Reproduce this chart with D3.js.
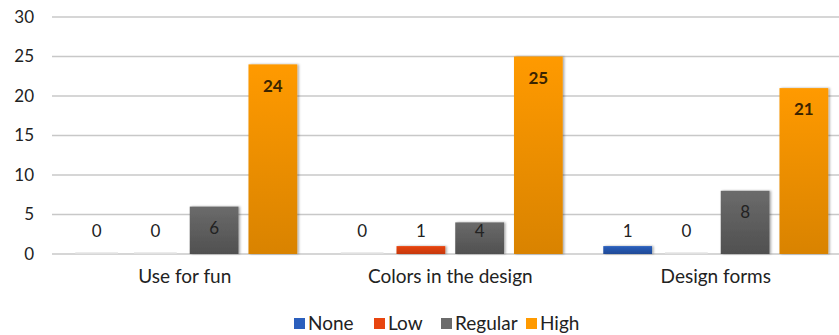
<!DOCTYPE html>
<html><head><meta charset="utf-8">
<script src="https://cdn.jsdelivr.net/npm/d3@7"></script>
<style>body{margin:0;background:#fff;} svg{display:block;font-family:Lato,"Open Sans",sans-serif;}</style>
</head><body>
<svg id="c" width="839" height="335"></svg>
<script>
const categories = ["Use for fun", "Colors in the design", "Design forms"];
const seriesNames = ["None", "Low", "Regular", "High"];
const noneVals = [0, 0, 1];
const lowVals = [0, 1, 0];
const regularVals = [6, 4, 8];
const highVals = [24, 25, 21];
const yTicks = [0, 5, 10, 15, 20, 25, 30];
const colors = ["#2b5fbd", "#e8450f", "#6b6b6b", "#ff9a00"];
const colorsDark = ["#1f4a96", "#c5370a", "#505050", "#d98300"];

const series = [noneVals, lowVals, regularVals, highVals];
const svg = d3.select("#c");
const defs = svg.append("defs");
colors.forEach((c, i) => {
  const g = defs.append("linearGradient").attr("id", "g" + i).attr("x1", 0).attr("y1", 0).attr("x2", 0).attr("y2", 1);
  g.append("stop").attr("offset", "0%").attr("stop-color", c);
  g.append("stop").attr("offset", "100%").attr("stop-color", colorsDark[i]);
});
const f = defs.append("filter").attr("id", "sh").attr("x", "-20%").attr("y", "-20%").attr("width", "150%").attr("height", "150%");
f.append("feDropShadow").attr("dx", 1.5).attr("dy", 0).attr("stdDeviation", 1.2).attr("flood-color", "#000").attr("flood-opacity", 0.35);

const x0 = d3.scaleBand().domain(categories).range([52, 848.5]).paddingInner(0).paddingOuter(0);
const x1 = d3.scaleBand().domain(seriesNames).range([0, x0.bandwidth()]).paddingInner(0.17).paddingOuter(0.345);
const y = d3.scaleLinear().domain([0, 30]).range([254, 17]);

// grid
svg.append("g").selectAll("line").data(yTicks).join("line")
  .attr("x1", 52).attr("x2", 839).attr("y1", d => y(d)).attr("y2", d => y(d))
  .attr("stroke", "#c8c8c8").attr("stroke-width", 1.3);

const yAxis = svg.append("g").attr("transform", "translate(40,0)")
  .call(d3.axisLeft(y).tickValues(yTicks).tickSize(0).tickPadding(6));
yAxis.select(".domain").remove();
yAxis.selectAll("text").attr("font-size", 17).attr("fill", "#222").attr("font-family", "Lato,'Open Sans',sans-serif");

const groups = svg.append("g").selectAll("g").data(categories).join("g")
  .attr("transform", d => `translate(${x0(d)},0)`);

groups.each(function(cat, ci) {
  const g = d3.select(this);
  seriesNames.forEach((s, si) => {
    const v = series[si][ci];
    const bx = x1(s), bw = x1.bandwidth();
    if (v > 0) {
      g.append("rect").attr("x", bx).attr("y", y(v)).attr("width", bw).attr("height", y(0) - y(v))
        .attr("fill", `url(#g${si})`).attr("filter", "url(#sh)");
    } else {
      g.append("line").attr("x1", bx + 3).attr("x2", bx + bw - 3).attr("y1", y(0) - 1).attr("y2", y(0) - 1)
        .attr("stroke", "#e4e4e4").attr("stroke-width", 1.5);
    }
    const ly = Math.min(y(v) + 21, 231);
    g.append("text").attr("x", bx + bw / 2).attr("y", ly).attr("dy", "0.36em")
      .attr("text-anchor", "middle").attr("font-size", 17)
      .attr("font-weight", si === 3 ? "bold" : "normal")
      .attr("fill", si === 3 ? "#3a2400" : "#222").text(v);
  });
});

const xAxis = svg.append("g").attr("transform", "translate(0,254)")
  .call(d3.axisBottom(x0).tickSize(0).tickPadding(16));
xAxis.select(".domain").remove();
xAxis.selectAll("text").attr("font-size", 19).attr("fill", "#222").attr("font-family", "Lato,'Open Sans',sans-serif");

// legend
const legendX = [294, 374, 441, 526];
const lg = svg.append("g").selectAll("g").data(seriesNames).join("g")
  .attr("transform", (d, i) => `translate(${legendX[i]},323)`);
lg.append("rect").attr("x", 0).attr("y", -5).attr("width", 11).attr("height", 11).attr("fill", (d, i) => colors[i]);
lg.append("text").attr("x", 14).attr("y", 0).attr("dy", "0.36em").attr("font-size", 19).attr("fill", "#222").text(d => d);
</script>
</body></html>
